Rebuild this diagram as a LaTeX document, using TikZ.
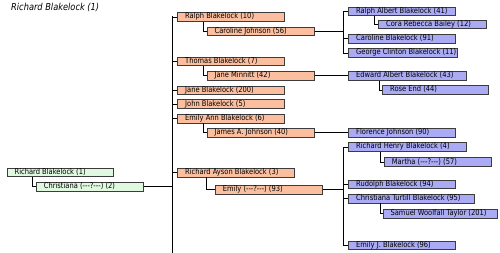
\documentclass[tikz,border=0pt]{standalone}
\usepackage{fontspec}
\newfontfamily\boxfont{DejaVu Sans}[FakeStretch=0.86,Ligatures=TeXOff]
\definecolor{gfill}{RGB}{224,248,224}
\definecolor{ofill}{RGB}{251,191,160}
\definecolor{bfill}{RGB}{170,170,245}
\definecolor{bline}{RGB}{60,60,60}
\tikzset{
  pbox/.style={draw=bline,line width=0.8pt,inner xsep=7.5pt,inner ysep=0pt,
    text height=5.1pt,text depth=1.4pt,font=\boxfont\fontsize{7.8}{9}\selectfont,anchor=north west},
  gbox/.style={pbox,fill=gfill},
  obox/.style={pbox,fill=ofill},
  bbox/.style={pbox,fill=bfill},
  conn/.style={line width=0.7pt,black},
}
\newcommand{\pb}[7]{\node[#2,minimum height=#7pt] (#1) at (#3,#4) {\makebox[#6pt][l]{#5}};}
\begin{document}
\begin{tikzpicture}[x=1pt,y=-1pt]
\useasboundingbox (0,0) rectangle (500,253);
\node[anchor=west,inner sep=0pt,font=\boxfont\itshape\fontsize{9.6}{11}\selectfont] (title) at (11,7.5) {Richard Blakelock (1)};
% green
\pb{rb}{gbox}{6.7}{167.7}{Richard Blakelock (1)}{91.6}{8.7}
\pb{chr}{gbox}{36}{182}{Christiana (---?---) (2)}{92.3}{8.7}
% orange
\pb{ralph}{obox}{177.3}{12.3}{Ralph Blakelock (10)}{92}{8.5}
\pb{caroj}{obox}{206.7}{26.7}{Caroline Johnson (56)}{92.6}{8.5}
\pb{thomas}{obox}{177.3}{56.7}{Thomas Blakelock (7)}{92}{8.6}
\pb{janem}{obox}{206.7}{71}{Jane Minnitt (42)}{92.6}{8.8}
\pb{janeb}{obox}{177.3}{85.7}{Jane Blakelock (200)}{92}{8.5}
\pb{john}{obox}{177.3}{99.5}{John Blakelock (5)}{92}{8.7}
\pb{emilyann}{obox}{177.3}{114}{Emily Ann Blakelock (6)}{92}{8.7}
\pb{jamesj}{obox}{206.7}{128}{James A. Johnson (40)}{92.6}{8.7}
\pb{richay}{obox}{177.3}{168}{Richard Ayson Blakelock (3)}{102}{8.7}
\pb{emily}{obox}{215}{184.8}{Emily (---?---) (93)}{91.7}{9}
% blue
\pb{ralpha}{bbox}{348.3}{6.7}{Ralph Albert Blakelock (41)}{91.7}{8.2}
\pb{cora}{bbox}{378.3}{19.7}{Cora Rebecca Bailey (12)}{92.7}{8.3}
\pb{carolb}{bbox}{348.3}{34}{Caroline Blakelock (91)}{91.7}{8.7}
\pb{george}{bbox}{348.3}{48.3}{George Clinton Blakelock (11)}{93.4}{8.4}
\pb{edward}{bbox}{348.3}{71}{Edward Albert Blakelock (43)}{103}{9.2}
\pb{rose}{bbox}{382.3}{85}{Rose End (44)}{90.4}{9.2}
\pb{florence}{bbox}{348.3}{128.3}{Florence Johnson (90)}{91.7}{8.4}
\pb{richh}{bbox}{348.3}{142.3}{Richard Henry Blakelock (4)}{102.4}{8.7}
\pb{martha}{bbox}{384}{157.3}{Martha (---?---) (57)}{92.3}{9.2}
\pb{rudolph}{bbox}{348.3}{180}{Rudolph Blakelock (94)}{91.7}{8.4}
\pb{christt}{bbox}{348.3}{194}{Christiana Turtill Blakelock (95)}{111}{8.7}
\pb{samuel}{bbox}{382.7}{208.7}{Samuel Woolfall Taylor (201)}{99}{9.3}
\pb{emilyj}{bbox}{348.3}{240.7}{Emily J. Blakelock (96)}{91.7}{8.6}
% spines
\coordinate (sTop) at (172.7,16.5);
\coordinate (sBot) at (172.7,253);
\coordinate (rX) at (343.3,0);
\coordinate (rTop) at (ralpha.west -| rX);
\coordinate (r2Top) at (richh.west -| rX);
\draw[conn] (sTop) -- (sBot);
\draw[conn] (rTop) -- (george.west -| rX);
\draw[conn] (r2Top) -- (emilyj.west -| rX);
% green connectors
\draw[conn] ([xshift=25.6pt]rb.south west) |- (chr.west);
\draw[conn] (chr.east) -- (chr.east -| sTop);
% orange ticks
\foreach \n in {ralph,thomas,janeb,john,emilyann,richay}
  \draw[conn] (\n.west -| sTop) -- (\n.west);
\draw[conn] ([xshift=26.4pt]ralph.south west) |- (caroj.west);
\draw[conn] ([xshift=26.4pt]thomas.south west) |- (janem.west);
\draw[conn] ([xshift=26.4pt]emilyann.south west) |- (jamesj.west);
\draw[conn] ([xshift=28.7pt]richay.south west) |- (emily.west);
% orange to blue
\draw[conn] (caroj.east) -- (caroj.east -| rX);
\draw[conn] (janem.east) -- (janem.east -| edward.west);
\draw[conn] (jamesj.east) -- (jamesj.east -| florence.west);
\draw[conn] (emily.east) -- (emily.east -| rX);
% blue ticks
\foreach \n in {ralpha,carolb,george,richh,rudolph,christt,emilyj}
  \draw[conn] (\n.west -| rX) -- (\n.west);
\draw[conn] ([xshift=26.4pt]ralpha.south west) |- (cora.west);
\draw[conn] ([xshift=31pt]edward.south west) |- (rose.west);
\draw[conn] ([xshift=31.7pt]richh.south west) |- (martha.west);
\draw[conn] ([xshift=31.7pt]christt.south west) |- (samuel.west);
\end{tikzpicture}
\end{document}
